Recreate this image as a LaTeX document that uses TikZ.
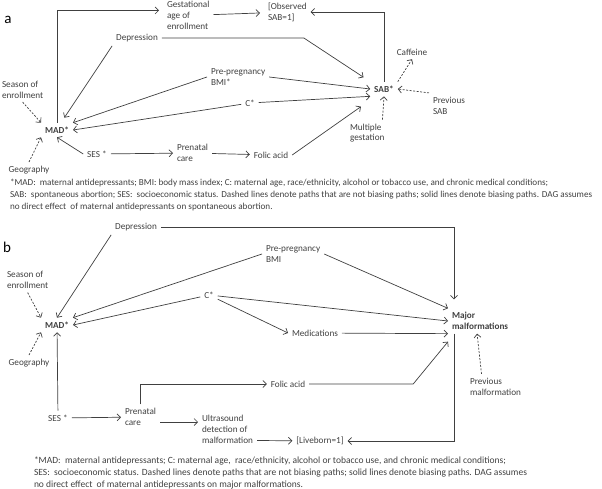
\documentclass[tikz,border=0pt]{standalone}
\usepackage{fontspec}
\setmainfont{Carlito}
\usetikzlibrary{arrows.meta,positioning,calc}
\definecolor{dgray}{RGB}{64,64,64}

\begin{document}
\begin{tikzpicture}[x=1pt,y=-1pt,>={Straight Barb[length=3.5pt,width=7pt]},
  every node/.style={font=\fontsize{9.2}{10.8}\selectfont,text=dgray,inner sep=1.5pt,outer sep=2.5pt},
  lbl/.style={align=left,anchor=west},
  lead/.style={font=\fontsize{9.2}{10.8}\selectfont\bfseries},
  panel/.style={font=\fontsize{15}{15}\selectfont,text=black},
  note/.style={align=left,anchor=west,font=\fontsize{9.5}{12.3}\selectfont},
  bias/.style={->,draw=dgray,line width=0.7pt},
  nobias/.style={->,draw=dgray,line width=0.7pt,dash pattern=on 2pt off 1.5pt}]
  \useasboundingbox (0,0) rectangle (602,489);

  % panel a: spontaneous abortion
  \node[panel] (tagA) at (8,20) {a};
  \node[lbl] (gestA) at (163,15.5) {Gestational\\age of\\enrollment};
  \node[lbl] (obsA) at (264,12) {[Observed\\SAB=1]};
  \node (depA) at (137,38) {Depression};
  \node (cafA) at (412,52) {Caffeine};
  \node[lbl] (bmiA) at (207,77) {Pre-pregnancy\\BMI*};
  \node[lbl] (seasA) at (-2,89.5) {Season of\\enrollment};
  \node[lead] (sabA) at (384,89) {SAB*};
  \node (cA) at (250,103) {C*};
  \node[lbl] (prevA) at (429,105.5) {Previous\\SAB};
  \node[lead] (madA) at (57,130) {MAD*};
  \node[lbl] (multA) at (346,133) {Multiple\\gestation};
  \node (sesA) at (97,154) {SES *};
  \node[lbl] (prenA) at (173,153) {Prenatal\\care};
  \node (folA) at (271,155) {Folic acid};
  \node (geoA) at (29,170) {Geography};
  % biasing paths
  \draw[bias] (madA.north) |- ([yshift=5pt,xshift=-4pt]gestA.west);
  \draw[bias,shorten >=4pt] (gestA) -- (obsA);
  \draw[bias] (sabA.north) |- (obsA.east);
  \draw[bias,shorten >=8pt] (depA.east) -- ++(142,0) -- (sabA.north west);
  \draw[bias,shorten >=6pt] (depA.south west) -- ([xshift=4pt]madA.north);
  \draw[bias] (bmiA.west) -- (madA.north east);
  \draw[bias] (bmiA.east) -- (sabA.west);
  \draw[bias] (cA) -- (madA.east);
  \draw[bias] (cA) -- (sabA.south west);
  \draw[bias,shorten >=4pt] (folA.east) -- ([xshift=-6pt,yshift=-8pt]sabA.south west);
  \draw[bias] (sesA.west) -- (madA.south);
  \draw[bias] (sesA) -- (prenA);
  \draw[bias] (prenA) -- (folA);
  % non-biasing paths
  \draw[nobias] ([xshift=-6pt]multA.north east) -- (sabA.south);
  \draw[nobias] (prevA.north west) -- (sabA.east);
  \draw[nobias] (sabA.north east) -- (cafA.south);
  \draw[nobias] (seasA.south) -- (madA.north west);
  \draw[nobias] (geoA.north) -- (madA.south west);
  \node[note,font=\fontsize{9.15}{12.3}\selectfont] (noteA) at (6,195) {*MAD:\ \ maternal antidepressants; BMI: body mass index; C: maternal age, race/ethnicity, alcohol or tobacco use, and chronic medical conditions;\\
    SAB:\ \ spontaneous abortion; SES:\ \ socioeconomic status. Dashed lines denote paths that are not biasing paths; solid lines denote biasing paths. DAG assumes\\
    no direct effect\ \ of maternal antidepressants on spontaneous abortion.};

  % panel b: major malformations
  \node[panel] (tagB) at (7,247) {b};
  \node (depB) at (136,227) {Depression};
  \node[lbl] (bmiB) at (262,254) {Pre-pregnancy\\BMI};
  \node[lbl] (seasB) at (3,280) {Season of\\enrollment};
  \node (cB) at (209,295) {C*};
  \node[lead] (madB) at (57,325) {MAD*};
  \node[lbl,lead] (majB) at (448,321) {Major\\malformations};
  \node (medB) at (315,333) {Medications};
  \node (geoB) at (29,363) {Geography};
  \node (folB) at (288,384) {Folic acid};
  \node[lbl] (prevB) at (466,386.5) {Previous\\malformation};
  \node (sesB) at (58,418) {SES *};
  \node[lbl] (prenB) at (121,417) {Prenatal\\care};
  \node[lbl] (usB) at (198,429.5) {Ultrasound\\detection of\\malformation};
  \node (liveB) at (320,441) {[Liveborn=1]};
  % biasing paths
  \draw[bias,shorten >=9pt] (depB.east) -| ([xshift=6pt]majB.north west);
  \draw[bias] (depB.south west) -- (madB.north);
  \draw[bias] (bmiB.west) -- (madB.north east);
  \draw[bias] (bmiB.east) -- (majB.north west);
  \draw[bias] (cB) -- (madB.east);
  \draw[bias] (cB) -- (majB.west);
  \draw[bias] (cB) -- (medB.west);
  \draw[bias] (medB) -- (majB.south west);
  \draw[bias] (folB.east) -- ++(104,0) -- ([yshift=-8pt]majB.south west);
  \draw[bias] (prenB.north) |- (folB.west);
  \draw[bias] (sesB) -- (madB);
  \draw[bias] (sesB) -- (prenB);
  \draw[bias] ([yshift=-5pt]prenB.east) -- ([yshift=-5pt]prenB.east -| usB.west);
  \draw[bias] ([yshift=-11pt]usB.east) -- (liveB);
  \draw[bias] ([xshift=6pt]majB.south west) |- (liveB.east);
  % non-biasing paths
  \draw[nobias] ([xshift=-14pt]prevB.north) -- ([xshift=-3pt]majB.south);
  \draw[nobias] (seasB.south) -- (madB.north west);
  \draw[nobias] (geoB.north) -- (madB.south west);
  \node[note] (noteB) at (30,473) {*MAD:\ \ maternal antidepressants; C: maternal age,\ \ race/ethnicity, alcohol or tobacco use, and chronic medical conditions;\\
    SES:\ \ socioeconomic status. Dashed lines denote paths that are not biasing paths; solid lines denote biasing paths. DAG assumes\\
    no direct effect\ \ of maternal antidepressants on major malformations.};
\end{tikzpicture}
\end{document}
